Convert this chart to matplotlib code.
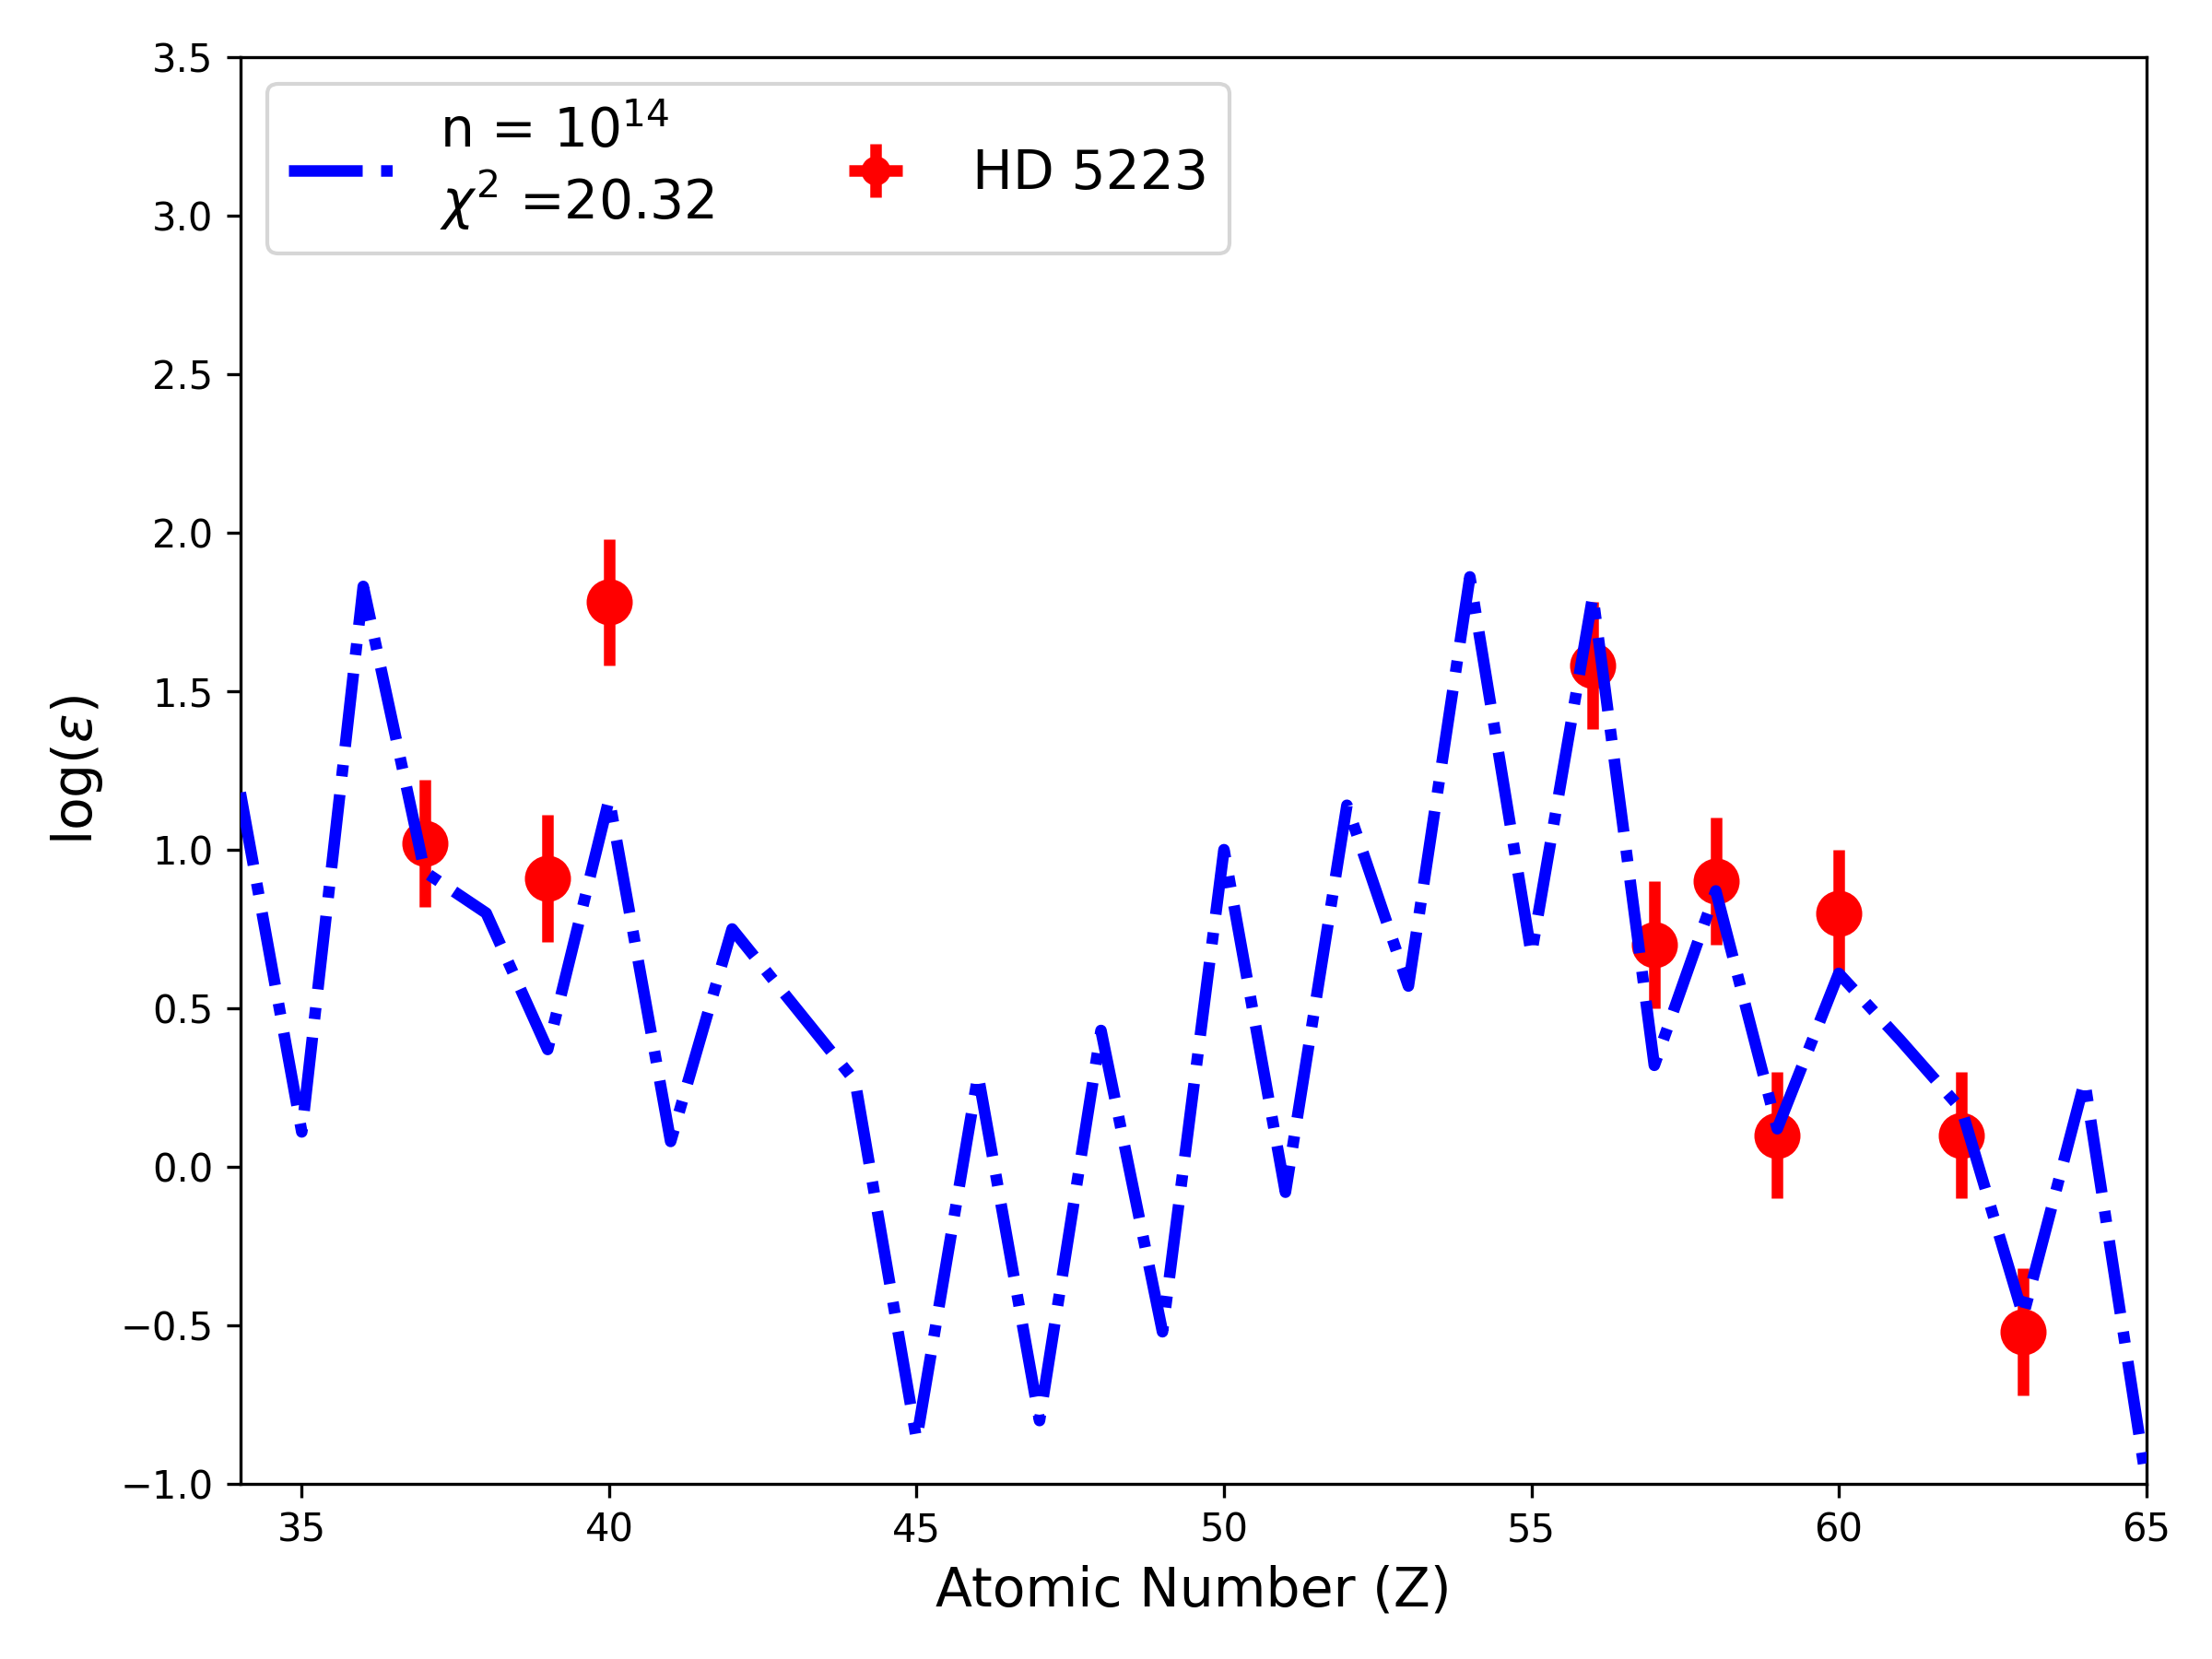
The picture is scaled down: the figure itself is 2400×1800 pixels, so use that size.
import matplotlib
matplotlib.use('Agg')
import matplotlib.pyplot as plt
import numpy as np

# model curve (n = 1e14)
model_z = np.arange(34, 66)
model_logeps = [1.18, 0.11, 1.83, 0.93, 0.80, 0.37, 1.16, 0.08, 0.75, 0.51,
                0.27, -0.86, 0.29, -0.80, 0.43, -0.52, 1.00, -0.08, 1.14, 0.57,
                1.86, 0.67, 1.80, 0.32, 0.87, 0.12, 0.61, 0.40, 0.18, -0.47,
                0.27, -0.99]

# observed abundances HD 5223
obs_z = [37, 39, 40, 56, 57, 58, 59, 60, 62, 63]
obs_logeps = [1.02, 0.91, 1.78, 1.58, 0.70, 0.90, 0.10, 0.80, 0.10, -0.52]
obs_err = [0.2, 0.2, 0.2, 0.2, 0.2, 0.2, 0.2, 0.2, 0.2, 0.2]

chi2 = 20.32

fig, ax = plt.subplots(figsize=(8, 6))

# 模型曲线画在观测点上面
ax.plot(model_z, model_logeps, color='blue', linestyle='-.', linewidth=3,
        zorder=3, label='n = $10^{14}$\n$\\chi^2$ =%.2f' % chi2)
ax.errorbar(obs_z, obs_logeps, yerr=obs_err, xerr=0, fmt='o', color='red',
            markersize=11, elinewidth=3, capsize=0, zorder=2, label='HD 5223')

ax.set_xlim(34, 65)
ax.set_ylim(-1.0, 3.5)
ax.set_xlabel('Atomic Number (Z)', fontsize=14)
ax.set_ylabel(r'log($\varepsilon$)', fontsize=14)
ax.legend(loc='upper left', ncol=2, fontsize=14, markerscale=0.6)

fig.tight_layout()
fig.savefig('out.png', dpi=300)
